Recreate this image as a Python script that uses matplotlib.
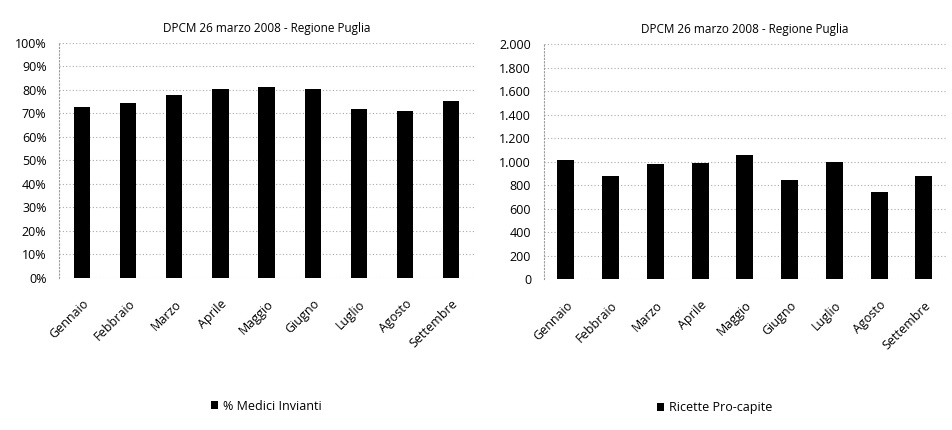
import matplotlib
matplotlib.use("Agg")
import matplotlib.pyplot as plt
from matplotlib.ticker import FuncFormatter

months = ["Gennaio", "Febbraio", "Marzo", "Aprile", "Maggio", "Giugno", "Luglio", "Agosto", "Settembre"]
medici_invianti = [72.8, 74.3, 77.9, 80.4, 81.3, 80.3, 71.8, 71.1, 75.4]
ricette_pro_capite = [1015, 879, 981, 992, 1055, 845, 995, 740, 882]
title = "DPCM 26 marzo 2008 - Regione Puglia"
left_ticks = list(range(0, 101, 10))
right_ticks = list(range(0, 2001, 200))

plt.rcParams['font.family'] = ['Open Sans', 'DejaVu Sans']

fig = plt.figure(figsize=(9.52, 4.30), dpi=100)
ax1 = fig.add_axes([0.062, 0.3535, 0.436, 0.5465])
ax2 = fig.add_axes([0.571, 0.3505, 0.423, 0.5465])

def style(ax):
    for s in ["top", "right", "bottom"]:
        ax.spines[s].set_visible(False)
    ax.spines["left"].set_color("#999999")
    ax.spines["left"].set_linestyle((0, (1, 2)))
    ax.yaxis.grid(True, color="#aaaaaa", linestyle=(0, (1, 2)), linewidth=0.8)
    ax.set_axisbelow(True)
    ax.tick_params(axis="both", length=0, labelsize=9, colors="black")
    ax.tick_params(axis="y", pad=9)
    ax.tick_params(axis="x", pad=14)

x = range(len(months))
ax1.bar(x, medici_invianti, width=0.35, color="black", label="% Medici Invianti")
ax1.set_ylim(0, 100)
ax1.set_yticks(left_ticks)
ax1.yaxis.set_major_formatter(FuncFormatter(lambda v, p: f"{int(v)}%"))
ax1.set_xlim(-0.5, len(months) - 0.5)
ax1.set_xticks(list(x))
ax1.set_xticklabels(months, rotation=45, ha="right", rotation_mode="anchor", fontsize=9)
ax1.set_title(title, fontsize=8.5, pad=8)
style(ax1)
ax1.legend(loc="upper center", bbox_to_anchor=(0.5, -0.47), frameon=False, fontsize=9,
           handlelength=0.6, handleheight=0.6, handletextpad=0.4)

ax2.bar(x, ricette_pro_capite, width=0.38, color="black", label="Ricette Pro-capite")
ax2.set_ylim(0, 2000)
ax2.set_yticks(right_ticks)
ax2.yaxis.set_major_formatter(FuncFormatter(lambda v, p: f"{int(v):,}".replace(",", ".")))
ax2.set_xlim(-0.5, len(months) - 0.5)
ax2.set_xticks(list(x))
ax2.set_xticklabels(months, rotation=45, ha="right", rotation_mode="anchor", fontsize=9)
ax2.set_title(title, fontsize=8.5, pad=8)
style(ax2)
ax2.legend(loc="upper center", bbox_to_anchor=(0.425, -0.47), frameon=False, fontsize=9,
           handlelength=0.6, handleheight=0.6, handletextpad=0.4)

fig.savefig("out.png", dpi=100, facecolor="white")
